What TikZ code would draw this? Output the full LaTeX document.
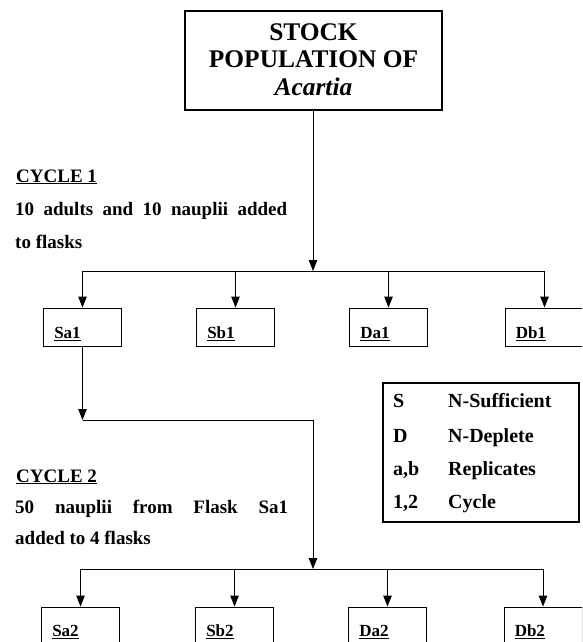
\documentclass[tikz,border=0pt]{standalone}
\usepackage{fontspec}
\setmainfont{Liberation Serif}
\usetikzlibrary{arrows.meta}
\newcommand\myul[1]{\setbox0\hbox{#1}\rlap{\rule[-2.2pt]{\wd0}{1.2pt}}\box0}
\begin{document}
\begin{tikzpicture}[x=1pt,y=-1pt,
  thinline/.style={line width=0.9pt, draw=black},
  arr/.style={thinline, -{Triangle[length=11pt,width=8.5pt]}},
  flask/.style={draw, line width=0.9pt, minimum width=78pt, minimum height=38pt, inner sep=0pt},
  flasklbl/.style={anchor=base west, inner sep=0pt, font=\fontsize{17}{20}\selectfont\bfseries},
  body/.style={anchor=base west, inner sep=0pt, font=\fontsize{19}{22}\selectfont\bfseries},
  legtext/.style={anchor=base west, inner sep=0pt, font=\fontsize{20}{23}\selectfont\bfseries},
  titletext/.style={anchor=base, inner sep=0pt, font=\fontsize{25.4}{28}\selectfont\bfseries},
  heavy/.style={draw, line width=2.8pt, inner sep=0pt}
]
\clip (0,0) rectangle (582,642);
% title box
\node[heavy, minimum width=257pt, minimum height=99pt] (stock) at (313.5,60.5) {};
\node[titletext] (t1) at (313.5,41) {STOCK};
\node[titletext] (t2) at (313.5,67) {POPULATION OF};
\node[titletext] (t3) at (313.5,95) {\itshape Acartia};

% cycle 1 text
\node[body] (c1) at (16,182) {\myul{CYCLE 1}};
\node[body] (c1a) at (15,215) {\makebox[272pt][s]{10 adults and 10 nauplii added}};
\node[body] (c1b) at (15,248) {to flasks};

% cycle 1 flasks
\node[flask] (sa1) at (82.5,327) {};
\node[flask] (sb1) at (235.5,327) {};
\node[flask] (da1) at (388.5,327) {};
\node[flask, minimum width=79pt] (db1) at (544.5,327) {};
\node[flasklbl] (sa1l) at ([xshift=11pt,yshift=-31pt]sa1.north west) {\myul{Sa1}};
\node[flasklbl] (sb1l) at ([xshift=11pt,yshift=-31pt]sb1.north west) {\myul{Sb1}};
\node[flasklbl] (da1l) at ([xshift=11pt,yshift=-31pt]da1.north west) {\myul{Da1}};
\node[flasklbl] (db1l) at ([xshift=11pt,yshift=-31pt]db1.north west) {\myul{Db1}};

\coordinate (h1) at (313,271);
\draw[arr] (stock.south -| h1) -- (h1);
\draw[thinline] (sa1.north |- h1) -- (db1.north |- h1);
\foreach \b in {sa1,sb1,da1,db1} \draw[arr] (\b.north |- h1) -- (\b.north);

% cycle 2 connectors
\coordinate (j2) at (82.5,420);
\coordinate (k2) at (313,420);
\coordinate (j3) at (313,569);
\draw[arr] (sa1.south) -- (j2);
\draw[thinline] (j2) -- (k2);
\draw[arr] (k2) -- (j3);

% legend
\node[heavy, minimum width=196pt, minimum height=139pt] (legend) at (481,452.5) {};
\node[legtext] (l1a) at (393,407) {S};
\node[legtext] (l1b) at (448,407) {N-Sufficient};
\node[legtext] (l2a) at (393,442) {D};
\node[legtext] (l2b) at (448,442) {N-Deplete};
\node[legtext] (l3a) at (393,475) {a,b};
\node[legtext] (l3b) at (448,475) {Replicates};
\node[legtext] (l4a) at (393,508) {1,2};
\node[legtext] (l4b) at (448,508) {Cycle};

% cycle 2 text
\node[body] (c2) at (16,482) {\myul{CYCLE 2}};
\node[body] (c2a) at (15,513) {\makebox[273pt][s]{50 nauplii from Flask Sa1}};
\node[body] (c2b) at (15,544) {added to 4 flasks};

% cycle 2 flasks
\node[flask, minimum height=70pt] (sa2) at (80.5,642) {};
\node[flask, minimum height=70pt] (sb2) at (234.5,642) {};
\node[flask, minimum height=70pt] (da2) at (387.5,642) {};
\node[flask, minimum height=70pt] (db2) at (543,642) {};
\node[flasklbl] (sa2l) at ([xshift=11pt,yshift=-30pt]sa2.north west) {\myul{Sa2}};
\node[flasklbl] (sb2l) at ([xshift=11pt,yshift=-30pt]sb2.north west) {\myul{Sb2}};
\node[flasklbl] (da2l) at ([xshift=11pt,yshift=-30pt]da2.north west) {\myul{Da2}};
\node[flasklbl] (db2l) at ([xshift=11pt,yshift=-30pt]db2.north west) {\myul{Db2}};

\draw[thinline] (sa2.north |- j3) -- (db2.north |- j3);
\foreach \b in {sa2,sb2,da2,db2} \draw[arr] (\b.north |- j3) -- (\b.north);
\end{tikzpicture}
\end{document}
